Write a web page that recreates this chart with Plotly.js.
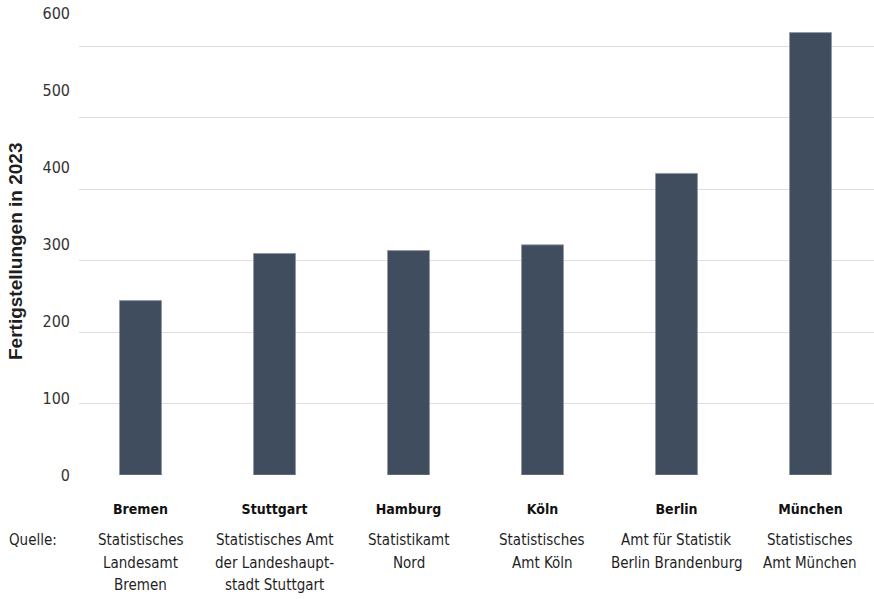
<!DOCTYPE html>
<html>
<head>
<meta charset="utf-8">
<script src="https://cdn.plot.ly/plotly-3.0.1.min.js"></script>
<style>
  html, body { margin: 0; padding: 0; background: #ffffff; }
  #chart { width: 874px; height: 599px; }
</style>
</head>
<body>
<div id="chart"></div>
<script>
// ---- Data ----
const cities = ["Bremen", "Stuttgart", "Hamburg", "Köln", "Berlin", "München"];
const completions2023 = [244, 310, 314, 322, 422, 619];
const sources = [
  ["Statistisches", "Landesamt", "Bremen"],
  ["Statistisches Amt", "der Landeshaupt-", "stadt Stuttgart"],
  ["Statistikamt", "Nord"],
  ["Statistisches", "Amt Köln"],
  ["Amt für Statistik", "Berlin Brandenburg"],
  ["Statistisches", "Amt München"]
];
const yTickValues = [0, 100, 200, 300, 400, 500, 600];
const yTickLabels = ["0", "100", "200", "300", "400", "500", "600"];
const yAxisTitle = "Fertigstellungen in 2023";
const sourceLabel = "Quelle:";

const FONT = '"DejaVu Sans Condensed", "Liberation Sans Narrow", "Liberation Sans", sans-serif';
const TEXT = '#1f1f1f';

const bars = {
  type: 'bar',
  x: cities,
  y: completions2023,
  marker: { color: '#404d5f', line: { color: '#8b95a3', width: 0.8 } },
  hoverinfo: 'x+y'
};
// anchors the label axis (yaxis2) so it is drawn; carries no visible mark
const labelAnchor = {
  type: 'scatter', mode: 'markers',
  x: [cities[0]], y: [yTickValues[0]],
  yaxis: 'y2',
  marker: { opacity: 0, size: 1 },
  hoverinfo: 'skip', showlegend: false
};

const LINE_H = 22.5;
const annotations = [];
cities.forEach((c, i) => {
  sources[i].forEach((line, j) => {
    annotations.push({
      x: c, xref: 'x',
      y: 0, yref: 'paper',
      yanchor: 'middle', yshift: -65 - LINE_H * j,
      text: line,
      showarrow: false,
      font: { family: FONT, size: 15, color: TEXT }
    });
  });
});
annotations.push({
  x: 0, xref: 'paper', xanchor: 'left', xshift: -72,
  y: 0, yref: 'paper', yanchor: 'middle', yshift: -65,
  text: sourceLabel, showarrow: false,
  font: { family: FONT, size: 15, color: TEXT }
});
annotations.push({
  x: 0, xref: 'paper', xanchor: 'center', xshift: -63,
  y: (475 - 251) / 475, yref: 'paper', yanchor: 'middle',
  text: '<b>' + yAxisTitle + '</b>', textangle: -90, showarrow: false,
  font: { family: '"Liberation Sans", sans-serif', size: 19, color: TEXT }
});

const layout = {
  width: 874, height: 599,
  margin: { l: 79, r: 0, t: 0, b: 124, pad: 0 },
  paper_bgcolor: '#ffffff', plot_bgcolor: '#ffffff',
  showlegend: false,
  bargap: 0.687,
  font: { family: FONT, size: 15, color: TEXT },
  xaxis: {
    type: 'category',
    range: [-0.459, 5.474],
    tickvals: cities,
    ticktext: cities.map(c => '<b>' + c + '</b>'),
    tickfont: { family: FONT, size: 14, color: '#111111' },
    ticks: '', showline: false, showgrid: false, zeroline: false,
    ticklabelstandoff: 24
  },
  yaxis: {
    range: [0, 475 / 0.7147],
    tickvals: yTickValues,
    showticklabels: false,
    showgrid: true, gridcolor: '#dddddd', gridwidth: 1,
    zeroline: false, showline: false, ticks: ''
  },
  yaxis2: {
    overlaying: 'y', side: 'left',
    range: [0, 475 / 0.77],
    tickvals: yTickValues,
    ticktext: yTickLabels,
    tickfont: { family: FONT, size: 16, color: '#333333' },
    showgrid: false, zeroline: false, showline: false, ticks: '',
    ticklabelstandoff: 8
  },
  annotations: annotations
};

Plotly.newPlot('chart', [bars, labelAnchor], layout, { displayModeBar: false, staticPlot: true });
</script>
</body>
</html>
